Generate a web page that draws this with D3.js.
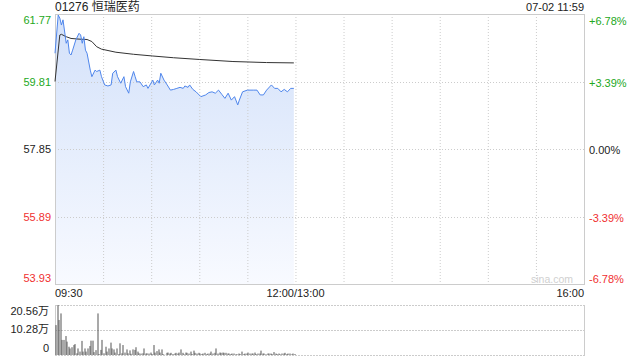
<!DOCTYPE html>
<html>
<head>
<meta charset="utf-8">
<script src="https://cdn.jsdelivr.net/npm/d3@7"></script>
<style>
  html, body { margin: 0; padding: 0; background: #fff; }
  svg { display: block; font-family: Arial, "Liberation Sans", "Noto Sans CJK SC", sans-serif; }
</style>
</head>
<body>
<svg id="chart" width="640" height="360"></svg>
<script>
// ---- data ----
const title = '01276 恒瑞医药';
const stamp = '07-02 11:59';
const preClose = 57.85;

const priceTicks = [61.77, 59.81, 57.85, 55.89, 53.93];
const pctLabels = ['+6.78%', '+3.39%', '0.00%', '-3.39%', '-6.78%'];
const volTicks = [20.56, 10.28, 0];
const volLabels = ['20.56万', '10.28万', '0'];
const timeLabels = ['09:30', '12:00/13:00', '16:00'];
const timeLabelAt = [0, 150, 330];     // minutes since open (lunch break collapsed)

// price trace: minute index -> price
const priceMin = [0, 2, 3, 4, 5, 7, 8, 9, 10, 11, 13, 15, 16, 17, 18, 19, 20, 22, 23, 25,
  26, 28, 29, 31, 33, 35, 36, 38, 39, 41, 43, 44, 46, 47, 49, 50, 51, 53, 55, 57,
  58, 61, 62, 64, 65, 66, 68, 70, 72, 74, 76, 78, 80, 81, 83, 84, 86, 88, 91, 94,
  96, 98, 100, 102, 104, 106, 108, 110, 112, 114, 115, 117, 120, 124, 126, 128, 130, 132, 135, 137,
  139, 141, 143, 145, 147, 149];
const priceVal = [60.63, 61.74, 61.65, 61.45, 61.60, 60.92, 61.02, 60.63, 60.58, 60.72, 61.02, 61.21, 61.16, 60.92, 61.11, 60.72, 60.63, 60.14, 59.95, 60.14,
  60.10, 60.14, 59.95, 59.71, 59.68, 59.71, 60.05, 60.14, 59.95, 59.76, 59.95, 59.66, 59.47, 59.80, 60.10, 59.95, 59.80, 59.80, 59.66, 59.71,
  59.61, 59.85, 59.71, 59.85, 59.76, 60.05, 59.85, 59.71, 59.56, 59.58, 59.61, 59.64, 59.61, 59.68, 59.64, 59.71, 59.58, 59.51, 59.37, 59.42,
  59.49, 59.51, 59.47, 59.56, 59.44, 59.32, 59.47, 59.27, 59.37, 59.13, 59.27, 59.51, 59.56, 59.56, 59.56, 59.42, 59.42, 59.56, 59.71, 59.61,
  59.61, 59.51, 59.58, 59.51, 59.61, 59.61];

// average price line
const avgMin = [0, 3, 4, 7, 10, 15, 20, 23, 26, 29, 38, 49, 61, 74, 90, 111, 132, 149];
const avgVal = [59.81, 61.16, 61.18, 61.11, 61.06, 61.04, 61.03, 60.97, 60.82, 60.75, 60.66, 60.60, 60.55, 60.50, 60.45, 60.39, 60.36, 60.35];

// volume per minute, in 万
const volume = [12.3, 20.56, 14.4, 17.1, 6.2, 6.2, 7.8, 5.5, 3.4, 2.7,
  3.2, 4.1, 4.5, 0.7, 2.7, 1.4, 5.8, 1.4, 2.7, 1.4,
  2.7, 3.7, 5.9, 5.9, 1.2, 2.0, 17.1, 0.4, 2.1, 6.2,
  0.7, 3.4, 1.4, 2.7, 5.1, 2.7, 2.3, 1.0, 2.7, 0.4,
  4.8, 0.7, 4.1, 1.0, 2.3, 0.7, 1.9, 0.5, 2.3, 2.1,
  3.2, 1.4, 0.7, 0.6, 0.7, 2.7, 0.6, 0.7, 0.6, 1.0,
  0.4, 4.1, 1.0, 1.6, 2.3, 1.0, 2.3, 0.4, 0.1, 0.9,
  1.0, 0.6, 0.9, 0.4, 0.6, 0.9, 0.6, 1.0, 2.3, 0.9,
  0.3, 1.0, 0.9, 0.6, 1.4, 0.4, 1.8, 0.9, 0.6, 0.9,
  0.6, 0.4, 0.6, 0.9, 0.4, 0.6, 0.6, 1.4, 0.6, 0.9,
  2.7, 0.6, 1.0, 0.9, 1.0, 0.9, 0.9, 0.6, 0.6, 0.4,
  0.6, 0.6, 0.3, 0.3, 0.6, 0.4, 1.4, 0.4, 0.6, 0.6,
  1.0, 0.6, 0.6, 0.6, 1.0, 0.4, 0.6, 0.6, 1.8, 0.6,
  0.6, 0.3, 0.6, 0.6, 0.6, 0.4, 1.2, 0.6, 0.4, 0.6,
  0.3, 0.6, 0.6, 0.9, 0.4, 0.6, 0.6, 0.3, 0.6, 0.4];

// ---- layout ----
const GREEN = '#22a822', RED = '#f03030', GRID = '#cccccc';
const plot = { left: 55, right: 584, top: 14, bottom: 284 };
const vol = { top: 305, bottom: 355 };

const svg = d3.select('#chart');
const x = d3.scaleLinear().domain([0, 330]).range([plot.left, plot.right]);
const y = d3.scaleLinear().domain([53.93, 61.77]).range([plot.bottom, plot.top]);
const yv = d3.scaleLinear().domain([0, 20.56]).range([vol.bottom, vol.top]);

const defs = svg.append('defs');
const grad = defs.append('linearGradient').attr('id', 'fill')
  .attr('gradientUnits', 'userSpaceOnUse')
  .attr('x1', 0).attr('x2', 0).attr('y1', plot.top).attr('y2', plot.bottom);
grad.append('stop').attr('offset', 0).attr('stop-color', '#d3e1fa');
grad.append('stop').attr('offset', 1).attr('stop-color', '#f8faff');

// header
svg.append('text').attr('x', plot.left).attr('y', 11).attr('font-size', 12).attr('fill', '#222').text(title);
svg.append('text').attr('x', plot.right).attr('y', 11).attr('font-size', 11).attr('fill', '#222')
  .attr('text-anchor', 'end').text(stamp);

// area + lines
const pts = priceMin.map((m, i) => ({ m, v: priceVal[i] }));
svg.append('path').datum(pts)
  .attr('fill', 'url(#fill)')
  .attr('d', d3.area().x((d) => x(d.m)).y0(plot.bottom).y1((d) => y(d.v)));

// grid
const vTicks = d3.range(30, 330, 30);
svg.append('g').selectAll('line').data(vTicks).enter().append('line')
  .attr('x1', (d) => x(d) + 0.5).attr('x2', (d) => x(d) + 0.5)
  .attr('y1', plot.top).attr('y2', plot.bottom)
  .attr('stroke', GRID).attr('stroke-dasharray', '1,2');
svg.append('g').selectAll('line').data(priceTicks.slice(1, -1)).enter().append('line')
  .attr('x1', plot.left).attr('x2', plot.right)
  .attr('y1', (d) => Math.round(y(d)) + 0.5).attr('y2', (d) => Math.round(y(d)) + 0.5)
  .attr('stroke', GRID).attr('stroke-dasharray', '1,2');
svg.append('rect')
  .attr('x', plot.left + 0.5).attr('y', plot.top + 0.5)
  .attr('width', plot.right - plot.left).attr('height', plot.bottom - plot.top)
  .attr('fill', 'none').attr('stroke', GRID);

svg.append('path').datum(avgMin.map((m, i) => ({ m, v: avgVal[i] })))
  .attr('fill', 'none').attr('stroke', '#333').attr('stroke-width', 1)
  .attr('d', d3.line().x((d) => x(d.m)).y((d) => y(d.v)));
svg.append('path').datum(pts)
  .attr('fill', 'none').attr('stroke', '#4f86ec').attr('stroke-width', 1)
  .attr('d', d3.line().x((d) => x(d.m)).y((d) => y(d.v)));

// price labels
const nT = priceTicks.length;
const labelY = (i) => {
  const yy = y(priceTicks[i]);
  if (i === 0) return yy + 10;
  if (i === nT - 1) return yy - 2;
  return yy + 4;
};
const colorOf = (v) => (v > preClose ? GREEN : v < preClose ? RED : '#222');
svg.append('g').selectAll('text').data(priceTicks).enter().append('text')
  .attr('x', plot.left - 4).attr('y', (d, i) => labelY(i))
  .attr('text-anchor', 'end').attr('font-size', 11)
  .attr('fill', (d) => colorOf(d)).text((d) => d.toFixed(2));
svg.append('g').selectAll('text').data(pctLabels).enter().append('text')
  .attr('x', plot.right + 5).attr('y', (d, i) => labelY(i) + 1)
  .attr('font-size', 11)
  .attr('fill', (d, i) => colorOf(priceTicks[i])).text((d) => d);

// watermark
svg.append('text').attr('x', 573).attr('y', 283).attr('text-anchor', 'end')
  .attr('font-size', 10.5).attr('fill', '#d0d0d0').text('sina.com');

// time labels
svg.append('g').selectAll('text').data(timeLabels).enter().append('text')
  .attr('x', (d, i) => x(timeLabelAt[i]))
  .attr('y', 297).attr('font-size', 11).attr('fill', '#222')
  .attr('text-anchor', (d, i) => (i === 0 ? 'start' : i === timeLabels.length - 1 ? 'end' : 'middle'))
  .text((d) => d);

// volume panel
svg.append('g').selectAll('line').data(volTicks).enter().append('line')
  .attr('x1', plot.left).attr('x2', plot.right)
  .attr('y1', (d) => Math.round(yv(d)) + 0.5).attr('y2', (d) => Math.round(yv(d)) + 0.5)
  .attr('stroke', GRID).attr('stroke-dasharray', '2,1');
[plot.left, plot.right].forEach((xx) => {
  svg.append('line').attr('x1', xx + 0.5).attr('x2', xx + 0.5)
    .attr('y1', vol.top).attr('y2', vol.bottom + 1).attr('stroke', GRID);
});
svg.append('g').selectAll('rect').data(volume).enter().append('rect')
  .attr('x', (d, i) => Math.round(x(i)) + 0.5)
  .attr('y', (d) => yv(d))
  .attr('width', 1)
  .attr('height', (d) => vol.bottom - yv(d))
  .attr('fill', '#555');
const volLabelY = [315, 333, 352];
svg.append('g').selectAll('text').data(volLabels).enter().append('text')
  .attr('x', 49).attr('y', (d, i) => volLabelY[i])
  .attr('text-anchor', 'end').attr('font-size', 11).attr('fill', '#222')
  .text((d) => d);
</script>
</body>
</html>
